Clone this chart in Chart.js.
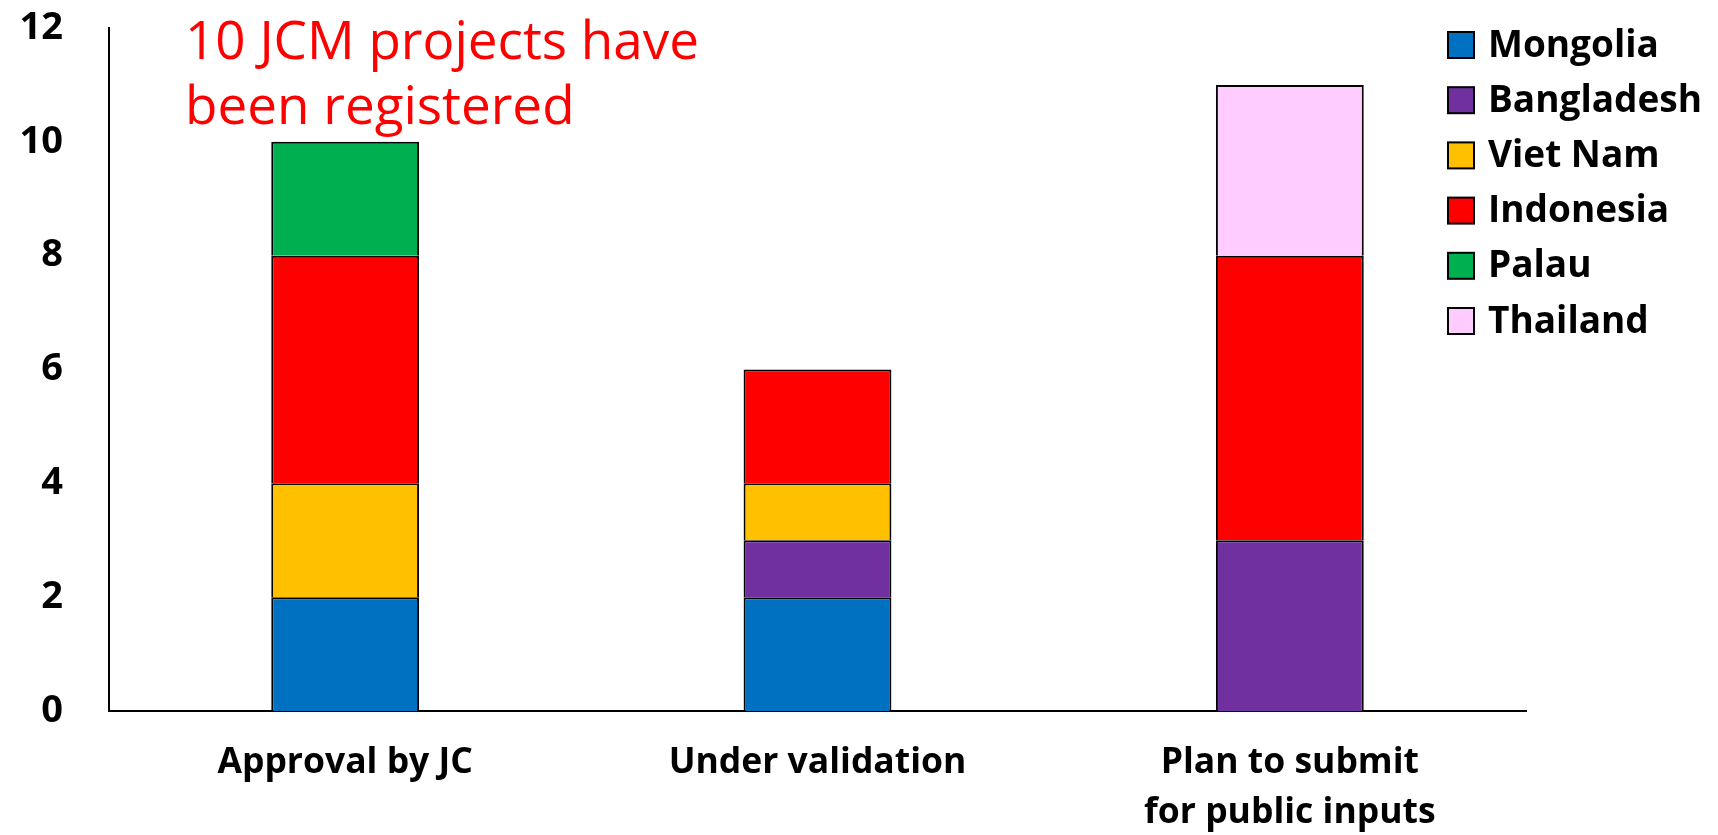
<!DOCTYPE html>
<html>
<head>
<meta charset="utf-8">
<script src="https://cdn.jsdelivr.net/npm/chart.js@4/dist/chart.umd.min.js"></script>
<style>
  body { margin: 0; background: #fff; }
  #wrap { position: relative; width: 1718px; height: 835px; }
  #note {
    position: absolute; left: 185px; top: 6px;
    font-family: "Open Sans", sans-serif; font-size: 53px; line-height: 65px;
    color: #ff0000; white-space: nowrap;
  }
</style>
</head>
<body>
<div id="wrap">
  <canvas id="chart" width="1718" height="835"></canvas>
  <div id="note">10 JCM projects have<br>been registered</div>
</div>
<script>
const categories = ["Approval by JC", "Under validation", ["Plan to submit", "for public inputs"]];
const countries = ["Mongolia", "Bangladesh", "Viet Nam", "Indonesia", "Palau", "Thailand"];
const colors = ["#0070c0", "#7030a0", "#ffc000", "#ff0000", "#00b050", "#ffccff"];

const mongolia = [2, 2, 0];
const bangladesh = [0, 1, 3];
const vietNam = [2, 1, 0];
const indonesia = [4, 2, 5];
const palau = [2, 0, 0];
const thailand = [0, 0, 3];

const yTicks = [0, 2, 4, 6, 8, 10, 12];

const values = [mongolia, bangladesh, vietNam, indonesia, palau, thailand];

// legend drawn on the canvas at the top right, over the plot
const legendPlugin = {
  id: 'sideLegend',
  afterDraw(chart) {
    const ctx = chart.ctx;
    ctx.save();
    ctx.font = 'bold 37px "Open Sans", sans-serif';
    ctx.textBaseline = 'middle';
    chart.data.datasets.forEach((ds, i) => {
      const cy = 45 + i * 55.2;
      ctx.fillStyle = ds.backgroundColor;
      ctx.fillRect(1448, cy - 13, 26, 26);
      ctx.lineWidth = 2;
      ctx.strokeStyle = '#000';
      ctx.strokeRect(1448, cy - 13, 26, 26);
      ctx.fillStyle = '#000';
      ctx.fillText(ds.label, 1488, cy + 1);
    });
    ctx.restore();
  }
};

new Chart(document.getElementById('chart'), {
  type: 'bar',
  data: {
    labels: categories,
    datasets: countries.map((name, i) => ({
      label: name,
      data: values[i],
      backgroundColor: colors[i],
      borderColor: '#000',
      borderWidth: 2,
      categoryPercentage: 1,
      barPercentage: 0.313
    }))
  },
  options: {
    responsive: false,
    animation: false,
    devicePixelRatio: 1,
    layout: { padding: { top: 28, right: 192, bottom: 0, left: 0 } },
    plugins: {
      legend: { display: false },
      tooltip: { enabled: false }
    },
    scales: {
      x: {
        stacked: true,
        grid: { display: false, drawTicks: false },
        border: { color: '#000', width: 2 },
        ticks: {
          color: '#000',
          padding: 27,
          font: { family: '"Open Sans", sans-serif', size: 35.5, weight: 'bold', lineHeight: 1.4 }
        },
        afterFit(scale) {
          scale.height = 124;
          scale.paddingLeft = 0;
          scale.paddingRight = 0;
        }
      },
      y: {
        stacked: true,
        min: 0,
        max: 12,
        grid: { display: false, drawTicks: false },
        border: { color: '#000', width: 2 },
        afterBuildTicks(scale) { scale.ticks = yTicks.map(v => ({ value: v })); },
        ticks: {
          color: '#000',
          padding: 46,
          font: { family: '"Open Sans", sans-serif', size: 38, weight: 'bold' }
        },
        afterFit(scale) {
          scale.width = 109;
          scale.paddingTop = 0;
          scale.paddingBottom = 0;
        }
      }
    }
  },
  plugins: [legendPlugin]
});
</script>
</body>
</html>
